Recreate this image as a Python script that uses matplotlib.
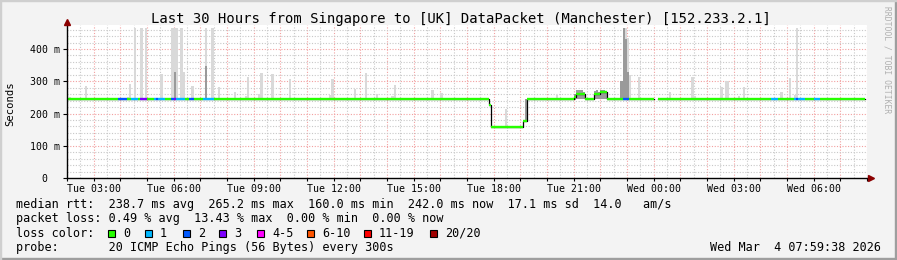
import numpy as np
import matplotlib
matplotlib.use('Agg')
import matplotlib.pyplot as plt
from matplotlib.patches import Rectangle

# smokeping data, one step = 5 minutes, step 0 = Tue 02:00
n_steps = 360
base_rtt = 244  # ms

# median rtt exceptions (start step, end step, value in ms)
med_start = [190, 191, 205, 228, 229, 237, 240, 264, 359]
med_end = [191, 205, 207, 229, 233, 240, 243, 266, 360]
med_val = [226, 159, 176, 252, 262, 262, 266, np.nan, np.nan]

# light smoke (max ping) per step
smoke_step = [1, 8, 27, 28, 30, 33, 35, 42, 47, 48, 49, 51, 52, 56, 62, 65, 68, 75,
              80, 81, 86, 87, 92, 100, 118, 119, 129, 134, 139, 146, 147, 164, 168,
              197, 220, 249, 250, 251, 252, 253, 257, 271, 281, 282, 294, 296, 297,
              302, 304, 321, 325, 327, 328]
smoke_top = [250, 285, 252, 293, 470, 470, 470, 322, 470, 470, 470, 470, 328, 285,
             470, 470, 281, 268, 255, 312, 262, 325, 322, 306, 256, 306, 275, 325,
             259, 255, 287, 272, 265, 215, 256, 280, 470, 470, 435, 320, 312, 268,
             312, 255, 281, 300, 300, 255, 281, 268, 309, 257, 465]

# darker smoke (inner pings)
dark_step = [48, 62, 206, 228, 229, 230, 231, 232, 237, 238, 239, 240, 241, 242,
             249, 250, 251, 252]
dark_lo = [244, 244, 176, 242, 244, 244, 244, 244, 244, 244, 244, 244, 244, 244,
           244, 244, 244, 244]
dark_hi = [330, 347, 244, 262, 272, 272, 272, 266, 270, 274, 266, 274, 274, 268,
           300, 470, 430, 330]

# packet loss on the median line
loss_start = [23, 29, 33, 39, 40, 41, 47, 48, 49, 55, 61, 64, 250, 317, 327, 328, 329, 336]
loss_end = [27, 32, 36, 40, 41, 44, 48, 49, 53, 57, 64, 66, 253, 320, 328, 329, 332, 339]
loss_level = [2, 1, 3, 1, 2, 1, 2, 3, 1, 2, 1, 1, 2, 1, 1, 2, 1, 1]

loss_colors = ['#26ff00', '#00b8ff', '#0059ff', '#7e00ff', '#ff00ff', '#ff5500', '#ff0000', '#a10000']
loss_names = ['0', '1', '2', '3', '4-5', '6-10', '11-19', '20/20']

tick_steps = [12, 48, 84, 120, 156, 192, 228, 264, 300, 336]
tick_labels = ['Tue 03:00', 'Tue 06:00', 'Tue 09:00', 'Tue 12:00', 'Tue 15:00',
               'Tue 18:00', 'Tue 21:00', 'Wed 00:00', 'Wed 03:00', 'Wed 06:00']
ytick_vals = [0, 100, 200, 300, 400]
ytick_labels = ['0  ', '100 m', '200 m', '300 m', '400 m']

legend_rows = [
    'median rtt:  238.7 ms avg  265.2 ms max  160.0 ms min  242.0 ms now  17.1 ms sd  14.0   am/s',
    'packet loss: 0.49 % avg  13.43 % max  0.00 % min  0.00 % now',
    'loss color:',
    'probe:       20 ICMP Echo Pings (56 Bytes) every 300s',
]

# ---- build series
median = np.full(n_steps, float(base_rtt))
for s, e, v in zip(med_start, med_end, med_val):
    median[s:e] = v
level = np.zeros(n_steps, dtype=int)
for s, e, l in zip(loss_start, loss_end, loss_level):
    level[s:e] = l

W, H = 897, 260
mono = 'DejaVu Sans Mono'
plt.rcParams['font.family'] = mono

fig = plt.figure(figsize=(W / 100, H / 100), dpi=100, facecolor='#f3f3f3')


def fx(x):
    return x / W


def fy(y):
    return 1 - y / H


ax = fig.add_axes([fx(67), fy(178), 800 / W, 153 / H])
ax.set_facecolor('white')
ymax = 153 / 0.3225
ax.set_xlim(0, n_steps)
ax.set_ylim(0, ymax)
for sp in ax.spines.values():
    sp.set_visible(False)

# grid
dot = (0, (1, 1.5))
for st in range(0, n_steps + 1, 6):
    if st % 12 == 0:
        ax.axvline(st, color='#f2a0a0', lw=0.8, ls=dot, zorder=0)
    else:
        ax.axvline(st, color='#c8c8c8', lw=0.8, ls=dot, zorder=0)
for v in range(20, 480, 20):
    if v % 100 == 0:
        ax.axhline(v, color='#f2a0a0', lw=0.8, ls=dot, zorder=0)
    else:
        ax.axhline(v, color='#c8c8c8', lw=0.8, ls=dot, zorder=0)

# smoke
top = np.minimum(np.array(smoke_top, dtype=float), 465)
bot = median[np.array(smoke_step)]
ax.bar(smoke_step, top - bot, bottom=bot, width=1, align='edge', color='#d9d9d9',
       lw=0, zorder=2)
dhi = np.minimum(np.array(dark_hi, dtype=float), 465)
ax.bar(dark_step, dhi - np.array(dark_lo), bottom=dark_lo, width=1, align='edge',
       color='#9a9a9a', lw=0, zorder=3)

# median line: black transitions, coloured by loss on top
xs = np.arange(n_steps)
ax.step(np.append(xs, n_steps), np.append(median, median[-1]), where='post',
        color='black', lw=0.9, zorder=4)
cols = [loss_colors[l] for l in level]
ax.hlines(median, xs, xs + 1, colors=cols, lw=1.7, zorder=5)

# axes lines and arrows
ax.plot([0, 361.5], [0, 0], color='black', lw=1, clip_on=False, zorder=6)
ax.plot([0, 0], [0, ymax + 10], color='black', lw=1, clip_on=False, zorder=6)
ax.plot([361.8], [0], marker='>', color='#8b0000', ms=4, clip_on=False, zorder=7)
ax.plot([0], [ymax + 10], marker='^', color='#8b0000', ms=4, clip_on=False, zorder=7)

ax.set_xticks(tick_steps)
ax.set_xticklabels(tick_labels, fontsize=7.1)
ax.set_xticks(range(0, n_steps + 1, 12), minor=True)
ax.set_yticks(ytick_vals)
ax.set_yticklabels(ytick_labels, fontsize=7.1)
ax.tick_params(axis='x', which='major', length=2, pad=2, width=0.8)
ax.tick_params(axis='x', which='minor', length=2, width=0.8)
ax.tick_params(axis='y', length=3, pad=2, width=0.8)

fig.text(fx(10), fy(104), 'Seconds', rotation=90, ha='center', va='center', fontsize=7.6)

# title and legend text
fig.text(fx(461), fy(19), 'Last 30 Hours from Singapore to [UK] DataPacket (Manchester) [152.233.2.1]',
         ha='center', va='center', fontsize=10)
for i, row in enumerate(legend_rows):
    fig.text(fx(16), fy(204.5 + i * 14.4), row, ha='left', va='center', fontsize=8.5)

box_x = [108, 145, 183, 219, 257, 307, 364, 430]
for bx, c, name in zip(box_x, loss_colors, loss_names):
    fig.patches.append(Rectangle((fx(bx), fy(237)), 7 / W, 7 / H, transform=fig.transFigure,
                                 facecolor=c, edgecolor='black', lw=0.8))
    fig.text(fx(bx + 15), fy(233.5), name, ha='left', va='center', fontsize=8.5)

fig.text(fx(881), fy(247.5), 'Wed Mar  4 07:59:38 2026', ha='right', va='center', fontsize=8.5)
fig.text(fx(887), fy(60), 'RRDTOOL / TOBI OETIKER', ha='center', va='center', fontsize=5.8,
         rotation=270, color='#b0b0b0')

# 3d frame
fig.patches.append(Rectangle((0, 0), 1, 2 / H, transform=fig.transFigure, color='#9e9e9e'))
fig.patches.append(Rectangle((1 - 2 / W, 0), 2 / W, 1, transform=fig.transFigure, color='#9e9e9e'))
fig.patches.append(Rectangle((0, 1 - 1 / H), 1, 1 / H, transform=fig.transFigure, color='#cfcfcf'))
fig.patches.append(Rectangle((0, 0), 1 / W, 1, transform=fig.transFigure, color='#cfcfcf'))

fig.savefig('out.png', dpi=100, facecolor=fig.get_facecolor())
